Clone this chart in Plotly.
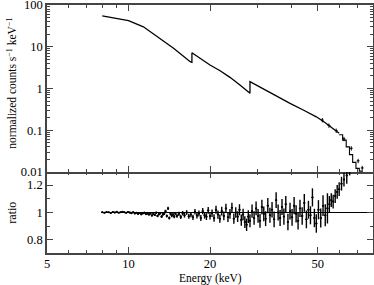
import plotly.graph_objects as go

# ---------------- data ----------------
# top panel: model spectrum (normalized counts s^-1 keV^-1)
model_e = [8.0, 9.0, 10.0, 11.35, 12.75, 14.67, 16.9, 17.15, 17.15, 20.0, 21.8, 23.7,
           25.8, 28.1, 28.1, 33.2, 39.5, 44.2, 49.4, 53.0, 56.9, 60.0]
model_c = [55, 48, 42, 30, 17.4, 9.2, 4.4, 4.25, 7.2, 3.66, 2.67, 1.85,
           1.21, 0.77, 1.46, 0.80, 0.44, 0.305, 0.21, 0.155, 0.111, 0.085]
# high-energy stepped model bins
step_e = [60.0, 61.8, 63.7, 65.5, 67.3, 69.2, 71.2, 73.5]
step_c = [0.078, 0.058, 0.040, 0.026, 0.017, 0.0122, 0.0105, 0.0105]
# high-energy data crosses
cross_e = [52.0, 55.0, 58.5, 62.5, 66.5, 70.5, 73.0]
cross_c = [0.175, 0.13, 0.098, 0.062, 0.037, 0.0185, 0.0125]

# bottom panel: ratio data
low_e = [8.0, 8.15, 8.3, 8.45, 8.6, 8.75, 8.9, 9.05, 9.2, 9.35, 9.5, 9.65, 9.8, 9.95,
         10.1, 10.25, 10.4, 10.55, 10.7, 10.85, 11.0, 11.15, 11.3, 11.45, 11.6, 11.75, 11.9,
         12.05, 12.2, 12.35, 12.5, 12.65, 12.8, 12.95, 13.1, 13.25, 13.4, 13.55, 13.7, 13.85,
         14.0, 14.15, 14.3, 14.45, 14.6, 14.75, 14.9]
low_r = [1.002, 0.998, 1.004, 1.001, 0.997, 1.003, 1.000, 1.005, 0.999, 1.002, 1.006, 1.001, 0.998, 1.003,
         1.000, 0.995, 1.002, 0.993, 0.998, 0.990, 0.996, 0.987, 0.994, 0.999, 0.988, 0.992, 0.985,
         0.993, 0.978, 0.990, 0.982, 0.998, 0.975, 0.988, 0.995, 0.970, 0.986, 0.992, 1.010, 0.975,
         1.030, 0.960, 0.990, 0.978, 0.985, 0.970, 0.992]
low_err = [0.004, 0.004, 0.004, 0.004, 0.004, 0.004, 0.005, 0.005, 0.005, 0.005, 0.005, 0.005, 0.005, 0.005,
           0.006, 0.006, 0.006, 0.006, 0.006, 0.006, 0.006, 0.007, 0.007, 0.007, 0.007, 0.007, 0.007,
           0.008, 0.008, 0.008, 0.008, 0.009, 0.009, 0.009, 0.009, 0.010, 0.010, 0.010, 0.010, 0.011,
           0.011, 0.011, 0.011, 0.012, 0.012, 0.012, 0.012]

mid_e = [15.1, 15.35, 15.6, 15.85, 16.1, 16.4, 16.7, 17.0, 17.3, 17.6,
         17.9, 18.2, 18.5, 18.8, 19.1, 19.4, 19.7, 20.0, 20.35, 20.7,
         21.05, 21.4, 21.75, 22.1, 22.5, 22.9, 23.3, 23.7, 24.1, 24.5,
         24.9, 25.3, 25.7, 26.1, 26.5, 26.9, 27.3, 27.7, 28.1, 28.6,
         29.1, 29.6, 30.1, 30.6, 31.1, 31.6, 32.1, 32.7, 33.3, 33.9,
         34.5, 35.1, 35.7, 36.3, 36.9, 37.5, 38.1, 38.8, 39.5, 40.2,
         40.9, 41.6, 42.3, 43.0, 43.8, 44.6, 45.4, 46.2, 47.0, 47.8,
         48.6, 49.4]
mid_r = [0.975, 0.99, 0.968, 0.995, 0.98, 1.0, 0.972, 0.985, 0.965, 1.005,
         0.978, 0.992, 0.96, 1.01, 0.98, 0.97, 1.015, 0.975, 0.995, 0.96,
         1.02, 0.985, 0.955, 1.01, 0.975, 1.03, 0.965, 0.99, 1.035, 0.955,
         1.0, 0.97, 1.02, 0.945, 0.985, 0.93, 0.91, 0.97, 0.94, 1.01,
         0.96, 1.03, 0.975, 0.94, 1.04, 0.99, 0.955, 1.05, 0.98, 1.02,
         0.95, 1.09, 1.0, 0.96, 1.04, 0.97, 1.06, 0.93, 1.01, 0.965,
         1.05, 0.99, 0.94, 1.03, 0.975, 1.07, 0.95, 1.02, 0.98, 1.11,
         0.96, 0.92]
mid_err = [0.014, 0.015, 0.015, 0.016, 0.017, 0.017, 0.018, 0.019, 0.019, 0.02,
           0.021, 0.022, 0.022, 0.023, 0.024, 0.025, 0.025, 0.026, 0.027, 0.028,
           0.029, 0.03, 0.03, 0.031, 0.032, 0.033, 0.034, 0.035, 0.036, 0.037,
           0.038, 0.039, 0.04, 0.041, 0.042, 0.043, 0.045, 0.046, 0.047, 0.048,
           0.049, 0.05, 0.05, 0.051, 0.052, 0.053, 0.054, 0.055, 0.055, 0.056,
           0.057, 0.057, 0.058, 0.058, 0.059, 0.059, 0.06, 0.06, 0.061, 0.061,
           0.062, 0.062, 0.063, 0.063, 0.064, 0.064, 0.065, 0.065, 0.066, 0.066,
           0.067, 0.067]

high_e = [50.3, 51.3, 52.3, 53.3, 54.3, 55.2, 56.1, 57.0, 58.0, 59.0, 60.0, 61.2,
          62.5, 64.0, 65.6, 67.3, 69.5, 72.0]
high_r = [1.02, 0.96, 1.05, 0.98, 1.03, 1.06, 1.09, 1.08, 1.12, 1.15, 1.17, 1.21,
          1.24, 1.27, 1.34, 1.42, 1.5, 1.6]
high_err = [0.07, 0.07, 0.075, 0.08, 0.11, 0.06, 0.05, 0.05, 0.05, 0.05, 0.05, 0.05,
            0.05, 0.06, 0.07, 0.08, 0.1, 0.12]

x_tickvals = [5, 10, 20, 50]
x_ticktext = ["5", "10", "20", "50"]
x_minor = [6, 7, 8, 9, 30, 40, 60, 70]
y_tickvals = [0.01, 0.1, 1, 10, 100]
y_ticktext = ["0.01", "0.1", "1", "10", "100"]
y_minor = [m * d for d in (0.01, 0.1, 1, 10) for m in range(2, 10)]
r_tickvals = [0.8, 1, 1.2]
r_ticktext = ["0.8", "1", "1.2"]
r_minor = [0.9, 1.1]

ratio_e = low_e + mid_e + high_e
ratio_r = low_r + mid_r + high_r
ratio_err = low_err + mid_err + high_err

# ---------------- figure ----------------
FONT = "Liberation Serif"
AX = "#444"
TF = dict(family=FONT, size=12.5, color="black")
fig = go.Figure()

fig.add_trace(go.Scatter(x=model_e, y=model_c, mode="lines",
                         line=dict(color="black", width=1.3), xaxis="x", yaxis="y"))
fig.add_trace(go.Scatter(x=step_e, y=step_c, mode="lines", line_shape="hv",
                         line=dict(color="black", width=1.1), xaxis="x", yaxis="y"))
fig.add_trace(go.Scatter(x=cross_e, y=cross_c, mode="markers",
                         marker=dict(size=1, color="black"),
                         error_y=dict(type="percent", value=12, width=0, thickness=1, color="black"),
                         error_x=dict(type="percent", value=1.2, width=0, thickness=1, color="black"),
                         xaxis="x", yaxis="y"))

fig.add_trace(go.Scatter(x=[8.0, 80.0], y=[1, 1], mode="lines",
                         line=dict(color="black", width=1.1), xaxis="x2", yaxis="y2"))
fig.add_trace(go.Scatter(x=ratio_e, y=ratio_r, mode="markers",
                         marker=dict(size=2, color="black"),
                         error_y=dict(type="data", array=ratio_err, width=0, thickness=1.4, color="black"),
                         error_x=dict(type="percent", value=0.9, width=0, thickness=1.3, color="black"),
                         xaxis="x2", yaxis="y2"))
# empty traces so the tick-only overlay axes exist
for xa, ya in (("x3", "y"), ("x4", "y2"), ("x5", "y2"), ("x6", "y2")):
    fig.add_trace(go.Scatter(x=[None], y=[None], xaxis=xa, yaxis=ya,
                             showlegend=False, hoverinfo="skip"))

split = 81 / 248.0
XR = [0.69897, 1.9031]
base = dict(showgrid=False, zeroline=False, automargin=False, ticklabeloverflow="allow")
xmajor = dict(base, type="log", range=XR, ticks="inside", ticklen=6, tickwidth=1, tickcolor=AX,
              tickmode="array", tickvals=x_tickvals, ticktext=x_ticktext, tickfont=TF)
xminor = dict(base, type="log", range=XR, showline=False, ticks="inside", ticklen=3,
              tickwidth=1, tickcolor=AX, tickmode="array", tickvals=x_minor,
              showticklabels=False)

fig.update_layout(
    width=374, height=285,
    margin=dict(l=47, r=1, t=5, b=32, autoexpand=False),
    paper_bgcolor="white", plot_bgcolor="white",
    showlegend=False,
    # top panel: line + ticks on bottom and top
    xaxis=dict(xmajor, domain=[0, 1], anchor="y", showticklabels=False,
               showline=True, linecolor=AX, linewidth=1.6, mirror="ticks"),
    xaxis3=dict(xminor, domain=[0, 1], anchor="y", overlaying="x", mirror="ticks"),
    # bottom panel: line + ticks on the bottom only, top ticks from overlay axes
    xaxis2=dict(xmajor, domain=[0, 1], anchor="y2", showline=True, linecolor=AX,
                linewidth=1.6, mirror=False, ticklabelstandoff=-2),
    xaxis4=dict(xminor, domain=[0, 1], anchor="y2", overlaying="x2", side="bottom"),
    xaxis5=dict(xmajor, domain=[0, 1], anchor="y2", overlaying="x2", side="top",
                showline=False, showticklabels=False),
    xaxis6=dict(xminor, domain=[0, 1], anchor="y2", overlaying="x2", side="top"),
    yaxis=dict(base, type="log", range=[-2, 2], domain=[split, 1], anchor="x",
               showline=True, linecolor=AX, linewidth=1.6, mirror="ticks",
               ticks="inside", ticklen=6, tickwidth=1, tickcolor=AX,
               tickmode="array", tickvals=y_tickvals, ticktext=y_ticktext,
               minor=dict(tickmode="array", tickvals=y_minor, ticks="inside", ticklen=3,
                          tickcolor=AX, showgrid=False),
               tickfont=TF),
    yaxis2=dict(base, range=[0.705, 1.295], domain=[0, split], anchor="x2",
                showline=True, linecolor=AX, linewidth=1.6, mirror="ticks",
                ticks="inside", ticklen=6, tickwidth=1, tickcolor=AX,
                tickmode="array", tickvals=r_tickvals, ticktext=r_ticktext,
                minor=dict(tickmode="array", tickvals=r_minor, ticks="inside", ticklen=3,
                           tickcolor=AX, showgrid=False),
                tickfont=TF),
    annotations=[
        dict(text="normalized counts s<sup>\u22121</sup> keV<sup>\u22121</sup>",
             xref="paper", yref="paper", x=-0.11, y=(split + 1) / 2 + 0.02,
             xanchor="center", yanchor="middle", textangle=-90, showarrow=False,
             font=dict(family=FONT, size=11.5, color="black")),
        dict(text="ratio", xref="paper", yref="paper", x=-0.11, y=split / 2,
             xanchor="center", yanchor="middle", textangle=-90, showarrow=False,
             font=dict(family=FONT, size=12, color="black")),
        dict(text="Energy (keV)", xref="paper", yref="paper", x=0.5, y=-0.068,
             xanchor="center", yanchor="top", showarrow=False,
             font=dict(family=FONT, size=11.5, color="black")),
    ],
)

fig.write_html("out.html", config={"displayModeBar": False},
               post_script="document.body.style.margin='0';")
